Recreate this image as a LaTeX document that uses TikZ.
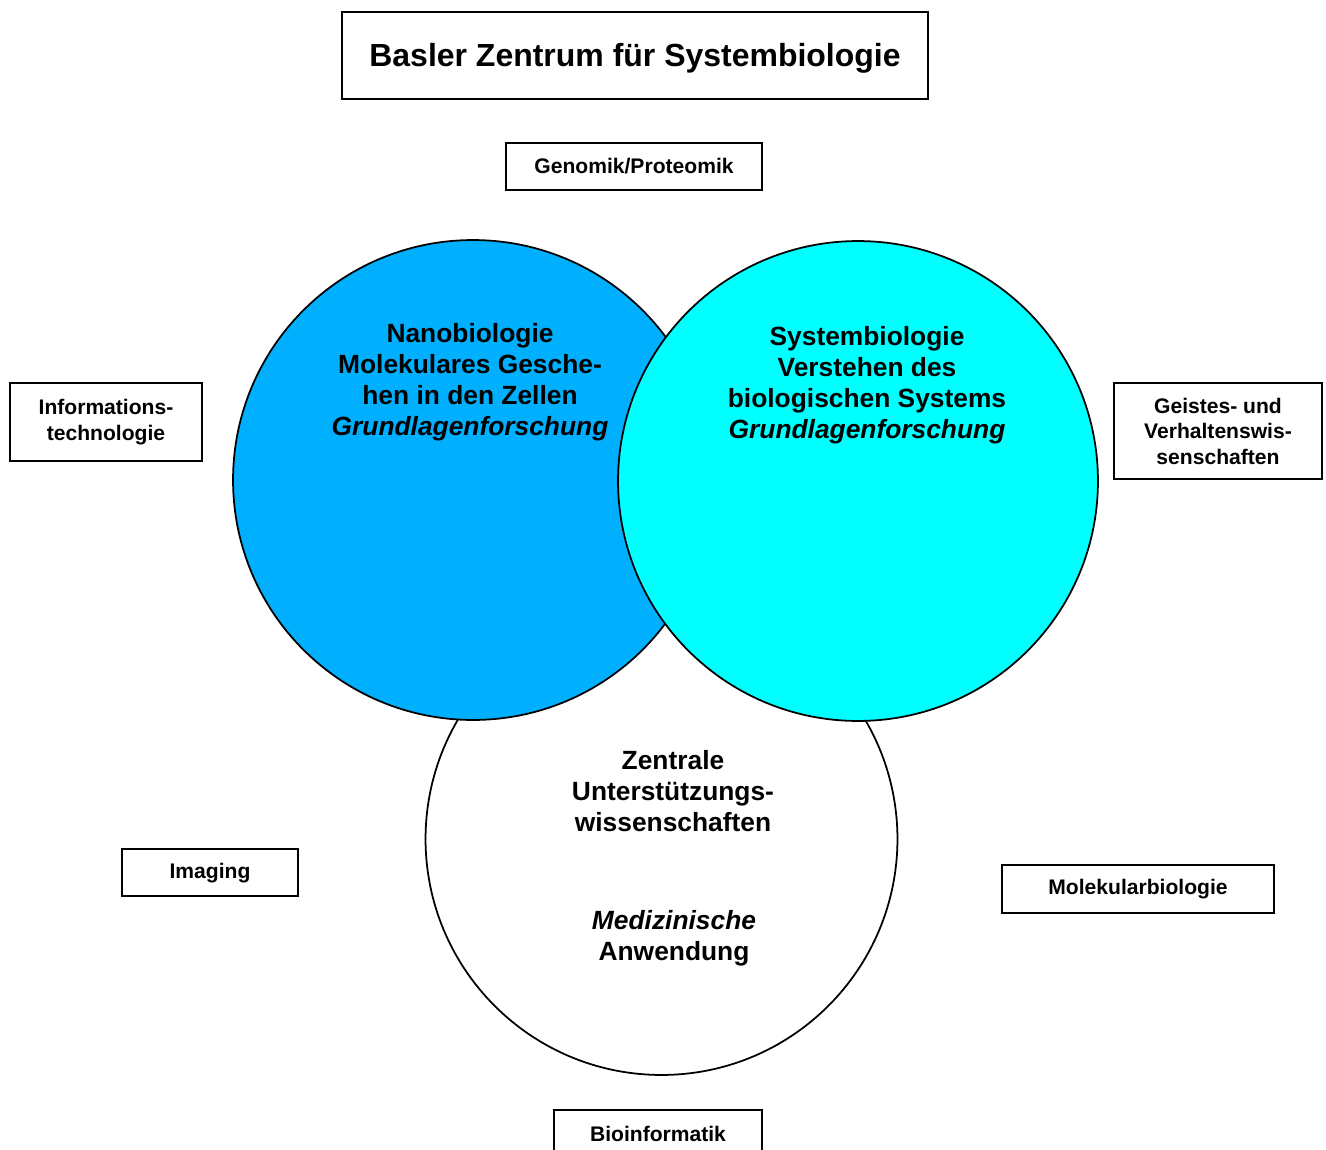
\documentclass[tikz,border=0pt]{standalone}
\usepackage{fontspec}
\setmainfont{Liberation Sans}
\usepackage{xcolor}
\usepackage{tikz}

\definecolor{nanoblue}{RGB}{0,176,255}
\definecolor{syscyan}{RGB}{0,255,255}

\begin{document}
\begin{tikzpicture}[x=0.02cm, y=-0.02cm,
	fachbox/.style={draw, line width=1.1pt, fill=white, align=center, inner sep=0pt,
		font=\fontsize{12}{14.5}\selectfont\bfseries},
	kreis/.style={circle, draw, line width=1pt, inner sep=0pt},
	kreistext/.style={align=center, font=\fontsize{15}{17.6}\selectfont\bfseries}]
		\useasboundingbox (0,0) rectangle (1326,1150);
		\node[kreis, fill=white, minimum size=9.44cm] (zentral) at (661.5,839) {};
		\node[kreis, fill=nanoblue, minimum size=9.6cm] (nano) at (473,480) {};
		\node[kreis, fill=syscyan, minimum size=9.6cm] (system) at (858,481) {};
		\node[kreistext] (nanotext) at (470,382) {Nanobiologie\\Molekulares Gesche-\\hen in den Zellen\\\textit{Grundlagenforschung}};
		\node[kreistext] (systemtext) at (867,385) {Systembiologie\\Verstehen des\\biologischen Systems\\\textit{Grundlagenforschung}};
		\node[kreistext] (zentraltext) at (673,791) {Zentrale\\Unterstützungs-\\wissenschaften};
		\node[kreistext] (medtext) at (674,938) {\textit{Medizinische}\\Anwendung};
		\node[fachbox, minimum width=11.72cm, minimum height=1.74cm, text height=16.7pt, text depth=3.8pt,
			font=\fontsize{18.2}{21}\selectfont\bfseries] (titel) at (635,55.5) {Basler Zentrum für Systembiologie};
		\node[fachbox, minimum width=5.12cm, minimum height=0.94cm] (genomik) at (634,166.5) {Genomik/Proteomik};
		\node[fachbox, minimum width=3.84cm, minimum height=1.56cm] (info) at (106,422) {Informations-\\technologie};
		\node[fachbox, minimum width=4.16cm, minimum height=1.92cm] (geistes) at (1218,431) {Geistes- und\\Verhaltenswis-\\senschaften};
		\node[fachbox, minimum width=3.52cm, minimum height=0.94cm, text depth=0.4ex] (imaging) at (210,872.5) {Imaging};
		\node[fachbox, minimum width=5.44cm, minimum height=0.96cm, text depth=0.4ex] (molbio) at (1138,889) {Molekularbiologie};
		\node[fachbox, minimum width=4.16cm, minimum height=0.94cm] (bioinfo) at (658,1133.5) {Bioinformatik};
	\end{tikzpicture}
\end{document}
